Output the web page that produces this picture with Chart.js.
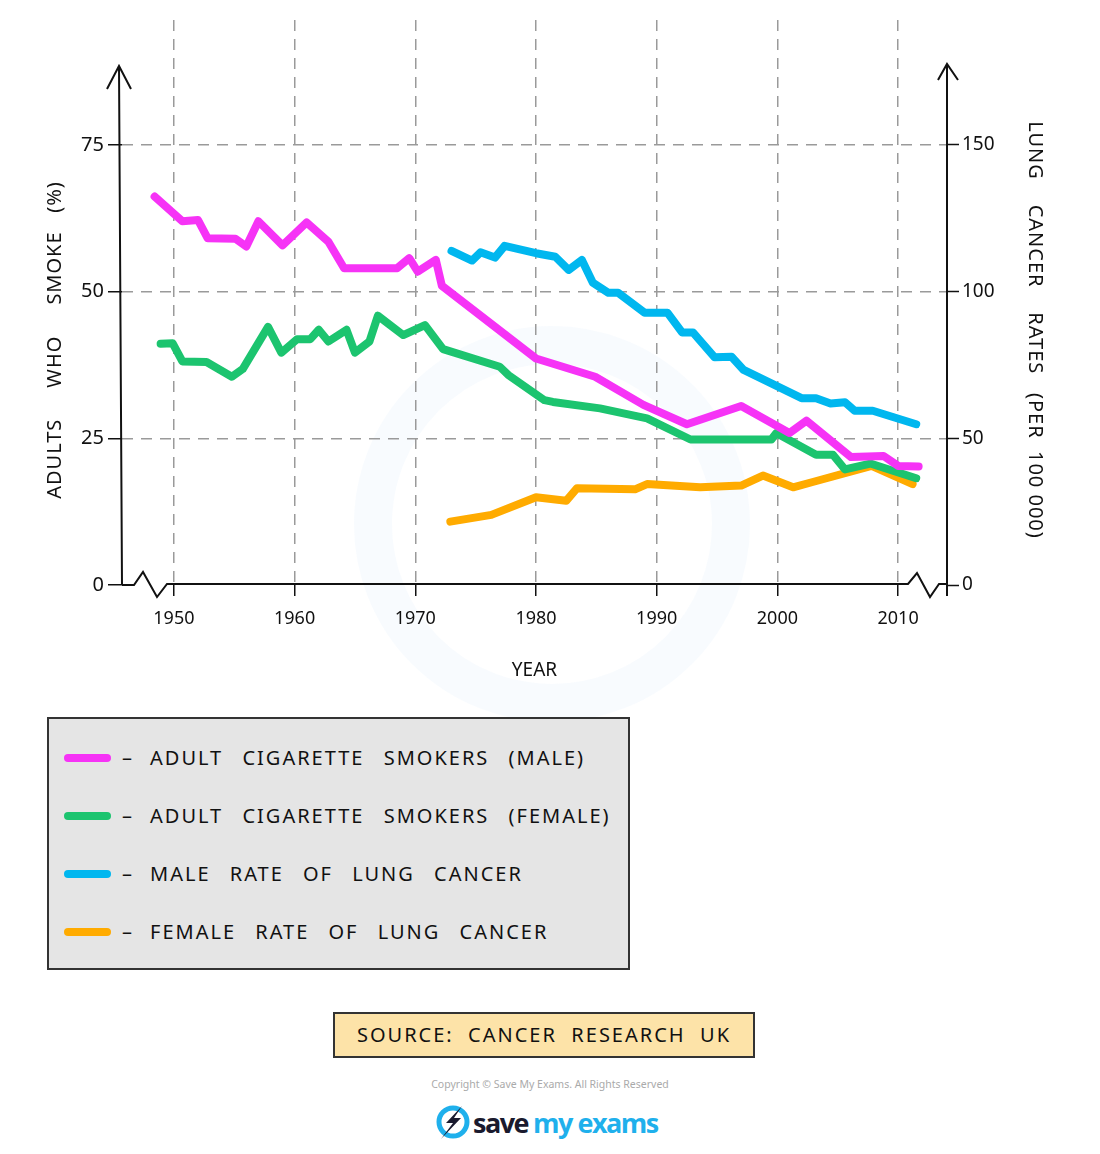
<!DOCTYPE html>
<html>
<head>
<meta charset="utf-8">
<script src="https://cdn.jsdelivr.net/npm/chart.js@4.4.1/dist/chart.umd.min.js"></script>
<style>
  html, body { margin: 0; padding: 0; background: #fff; }
  body { width: 1100px; height: 1154px; position: relative; overflow: hidden; font-family: "Noto Sans", sans-serif; color: #111; }
  #ring { position: absolute; left: 354px; top: 326px; width: 320px; height: 320px; border-radius: 50%; border: 38px solid rgba(232, 243, 251, 0.3); }
  #wrap { position: absolute; left: 0; top: 0; width: 1100px; height: 700px; }
  #legend { position: absolute; left: 47px; top: 717px; width: 579px; height: 249px; background: #e5e5e5; border: 2px solid #333; }
  .row { position: absolute; left: 0; width: 100%; height: 30px; font-size: 20px; letter-spacing: 2px; white-space: pre; line-height: 30px; }
  .sw { position: absolute; left: 15px; top: 11px; width: 47px; height: 8px; border-radius: 4px; }
  .dash { position: absolute; left: 73px; }
  .txt { position: absolute; left: 101px; word-spacing: 12px; }
  #source { position: absolute; left: 333px; top: 1012px; width: 418px; height: 42px; background: #fde3a8; border: 2px solid #333; font-size: 20px; letter-spacing: 2px; white-space: pre; text-align: center; line-height: 42px; }
  #copy { position: absolute; left: 0; width: 1100px; top: 1077px; text-align: center; font-size: 10.5px; color: #aaa; }
  #logo { position: absolute; left: 435px; top: 1102px; height: 40px; display: flex; align-items: center; font-family: "Open Sans", sans-serif; font-weight: 700; font-size: 27px; letter-spacing: -1.5px; }
</style>
</head>
<body>
<div id="ring"></div>
<div id="wrap"><canvas id="c" width="1100" height="700"></canvas></div>
<div id="legend"></div>
<div id="source">SOURCE:  CANCER  RESEARCH  UK</div>
<div id="copy">Copyright © Save My Exams. All Rights Reserved</div>
<div id="logo">
  <svg width="36" height="40" viewBox="0 0 36 40">
    <circle cx="18" cy="20" r="14" fill="none" stroke="#1fb0ec" stroke-width="5"/>
    <polygon points="27,4 11,21 18,21 6,37 26,16 19,16" fill="#1a1a2e"/>
  </svg>
  <span style="color:#1a1a2e;margin-left:2px">save</span><span style="color:#1fb0ec;margin-left:5px">my exams</span>
</div>
<script>
const seriesLabels = [
  'ADULT CIGARETTE SMOKERS (MALE)',
  'ADULT CIGARETTE SMOKERS (FEMALE)',
  'MALE RATE OF LUNG CANCER',
  'FEMALE RATE OF LUNG CANCER'
];
const seriesColors = ['#f633f6', '#1cc46f', '#00b7ef', '#ffab00'];

const maleSmokeYears = [1948.4, 1950.7, 1952.0, 1952.8, 1955.1, 1956.0, 1957.0, 1959.0, 1961.0, 1962.8, 1964.1, 1968.5, 1969.5, 1970.2, 1971.7, 1972.2, 1980.0, 1984.9, 1988.9, 1992.5, 1997.0, 2001.0, 2002.4, 2006.1, 2008.8, 2010.0, 2011.7];
const maleSmokeValues = [66.2, 62.0, 62.2, 59.1, 59.0, 57.7, 62.0, 57.9, 61.8, 58.5, 54.0, 54.0, 55.7, 53.4, 55.4, 51.0, 38.6, 35.5, 30.7, 27.4, 30.5, 25.9, 28.0, 21.8, 22.0, 20.3, 20.2];

const femaleSmokeYears = [1948.9, 1949.9, 1950.7, 1952.7, 1954.8, 1955.7, 1957.8, 1958.9, 1960.2, 1961.3, 1962.0, 1962.8, 1964.3, 1965.0, 1966.2, 1966.9, 1969.0, 1970.8, 1972.3, 1977.0, 1977.7, 1980.7, 1981.4, 1985.3, 1989.2, 1992.8, 1999.5, 1999.9, 2003.2, 2004.6, 2005.6, 2007.7, 2011.5];
const femaleSmokeValues = [41.1, 41.2, 38.1, 38.0, 35.5, 36.8, 44.0, 39.6, 41.9, 41.9, 43.5, 41.5, 43.5, 39.6, 41.5, 45.9, 42.6, 44.3, 40.2, 37.2, 35.8, 31.5, 31.2, 30.1, 28.4, 24.8, 24.8, 25.9, 22.2, 22.2, 19.7, 20.7, 18.2];

const maleCancerYears = [1973.0, 1974.7, 1975.4, 1976.6, 1977.4, 1980.0, 1981.6, 1982.7, 1983.8, 1984.7, 1986.0, 1986.8, 1989.0, 1990.9, 1992.1, 1993.0, 1994.8, 1996.2, 1997.2, 1999.2, 2002.0, 2003.2, 2004.4, 2005.6, 2006.4, 2007.9, 2011.5];
const maleCancerValues = [113.9, 110.6, 113.4, 111.6, 115.6, 113.1, 111.9, 107.4, 110.8, 103.1, 99.6, 99.6, 92.8, 92.8, 86.1, 86.1, 77.6, 77.8, 73.3, 69.3, 63.7, 63.7, 61.9, 62.3, 59.4, 59.4, 54.8];

const femaleCancerYears = [1972.9, 1976.3, 1980.0, 1982.5, 1983.4, 1988.2, 1989.2, 1993.6, 1997.0, 1998.8, 2001.3, 2003.0, 2007.8, 2011.2];
const femaleCancerValues = [21.6, 23.9, 29.9, 28.7, 33.0, 32.6, 34.4, 33.3, 33.9, 37.3, 33.3, 35.2, 40.6, 34.4];

const yearTicks = [1950, 1960, 1970, 1980, 1990, 2000, 2010];
const smokeTicks = [0, 25, 50, 75];
const cancerTicks = [0, 50, 100, 150];

const leftTitle = 'ADULTS     WHO     SMOKE   (%)';
const rightTitle = 'LUNG    CANCER    RATES   (PER  100 000)';

const pts = (xs, ys) => xs.map((x, i) => ({x, y: ys[i]}));

const line = (i, xs, ys, axis) => ({
  label: seriesLabels[i],
  data: pts(xs, ys),
  yAxisID: axis,
  borderColor: seriesColors[i],
  backgroundColor: seriesColors[i],
  borderWidth: 8,
  borderCapStyle: 'round',
  borderJoinStyle: 'round',
  pointRadius: 0,
  tension: 0,
  fill: false,
})

// legend is plain html, built from the same labels / colours
const legend = document.getElementById('legend')
seriesLabels.forEach((lab, i) => {
  const row = document.createElement('div')
  row.className = 'row'
  row.style.top = (41 + i * 58 - 2 - 15) + 'px'
  row.innerHTML = `<div class="sw" style="background:${seriesColors[i]}"></div>` +
    `<div class="dash">–</div><div class="txt">${lab}</div>`
  legend.appendChild(row)
})

// axis lines, arrows, break marks and rotated axis titles
const decorations = {
  id: 'decorations',
  afterDraw(chart) {
    const {ctx, chartArea} = chart
    const y0 = chart.scales.yLeft.getPixelForValue(0)
    const xl = chartArea.left
    const xr = chartArea.right

    ctx.save()
    ctx.strokeStyle = '#111'
    ctx.lineWidth = 2
    ctx.lineJoin = 'miter'

    // left axis + arrow
    ctx.beginPath()
    ctx.moveTo(xl, y0)
    ctx.lineTo(xl - 3, 66)
    ctx.moveTo(xl - 15, 89)
    ctx.lineTo(xl - 3, 66)
    ctx.lineTo(xl + 9, 89)
    ctx.stroke()

    // right axis + arrow
    ctx.beginPath()
    ctx.moveTo(xr, y0 + 11)
    ctx.lineTo(xr, 64)
    ctx.moveTo(xr - 9, 80)
    ctx.lineTo(xr, 64)
    ctx.lineTo(xr + 11, 80)
    ctx.stroke()

    // x axis with break marks at both ends
    ctx.beginPath()
    ctx.moveTo(xl, y0)
    ctx.lineTo(xl + 12, y0)
    ctx.lineTo(xl + 21, y0 - 13)
    ctx.lineTo(xl + 35, y0 + 12)
    ctx.lineTo(xl + 45, y0 - 1)
    ctx.lineTo(xr - 39, y0 - 1)
    ctx.lineTo(xr - 30, y0 - 12)
    ctx.lineTo(xr - 17, y0 + 12)
    ctx.lineTo(xr - 8, y0 - 1)
    ctx.lineTo(xr, y0 - 1)
    ctx.stroke()

    // y axis titles
    ctx.fillStyle = '#111'
    ctx.font = '20px "Noto Sans"'
    ctx.letterSpacing = '1px'
    ctx.textAlign = 'center'
    ctx.textBaseline = 'middle'

    ctx.save()
    ctx.translate(55, 340)
    ctx.rotate(-Math.PI / 2)
    ctx.fillText(leftTitle, 0, 0)
    ctx.restore()

    ctx.save()
    ctx.translate(1035, 330)
    ctx.rotate(Math.PI / 2)
    ctx.fillText(rightTitle, 0, 0)
    ctx.restore()

    ctx.restore()
  }
}

const gridColor = (c) => (c.tick && c.tick.value === 0 ? 'rgba(0,0,0,0)' : '#9a9a9a')

new Chart(document.getElementById('c'), {
  type: 'line',
  data: {
    datasets: [
      line(0, maleSmokeYears, maleSmokeValues, 'yLeft'),
      line(1, femaleSmokeYears, femaleSmokeValues, 'yLeft'),
      line(2, maleCancerYears, maleCancerValues, 'yRight'),
      line(3, femaleCancerYears, femaleCancerValues, 'yRight'),
    ],
  },
  options: {
    responsive: false,
    animation: false,
    layout: {padding: {top: 20, left: 0, right: 0, bottom: 0}},
    plugins: {
      legend: {display: false},
      tooltip: {enabled: false},
    },
    scales: {
      x: {
        type: 'linear',
        min: 1945.7,
        max: 2014.05,
        afterBuildTicks: (s) => { s.ticks = yearTicks.map((v) => ({value: v})) },
        afterFit: (s) => { s.height = 115 },
        grid: {color: '#9a9a9a', lineWidth: 1.5, tickColor: '#111', tickWidth: 1.5, tickLength: 11, tickBorderDash: []},
        border: {display: false, dash: [11, 8]},
        ticks: {
          color: '#111',
          font: {family: 'Noto Sans', size: 18},
          padding: 12,
          maxRotation: 0,
          callback: (v) => String(v),
        },
        title: {
          display: true,
          text: 'YEAR',
          color: '#111',
          font: {family: 'Noto Sans', size: 19},
          padding: {top: 0, bottom: 18},
        },
      },
      yLeft: {
        type: 'linear',
        position: 'left',
        min: 0,
        max: 96.3,
        afterBuildTicks: (s) => { s.ticks = smokeTicks.map((v) => ({value: v})) },
        afterFit: (s) => { s.width = 122 },
        grid: {color: gridColor, lineWidth: 1.5, tickColor: '#111', tickWidth: 1.5, tickLength: 14, tickBorderDash: []},
        border: {display: false, dash: [11, 8]},
        ticks: {color: '#111', font: {family: 'Noto Sans', size: 20}, padding: 4},
      },
      yRight: {
        type: 'linear',
        position: 'right',
        min: 0,
        max: 192.6,
        afterBuildTicks: (s) => { s.ticks = cancerTicks.map((v) => ({value: v})) },
        afterFit: (s) => { s.width = 153 },
        grid: {drawOnChartArea: false, color: '#9a9a9a', tickColor: '#111', tickWidth: 1.5, tickLength: 12, tickBorderDash: []},
        border: {display: false},
        ticks: {color: '#111', font: {family: 'Noto Sans', size: 19}, padding: 3},
      },
    },
  },
  plugins: [decorations],
})
</script>
</body>
</html>
